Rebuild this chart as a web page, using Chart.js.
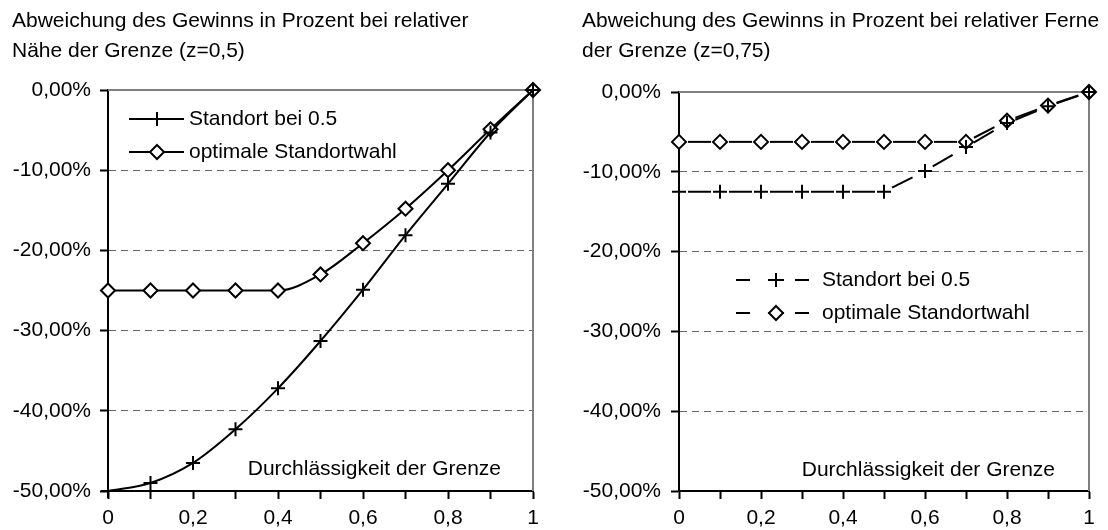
<!DOCTYPE html>
<html>
<head>
<meta charset="utf-8">
<script src="https://cdn.jsdelivr.net/npm/chart.js@4.4.1/dist/chart.umd.min.js"></script>
<style>
  body { margin: 0; background: #fff; }
  .panel { position: absolute; top: 0; width: 554px; height: 530px; }
  .panel canvas { position: absolute; left: 0; top: 0; }
  .title {
    position: absolute;
    top: 5px;
    font: 21px/30px "Liberation Sans", Arial, sans-serif;
    color: #000;
    white-space: nowrap;
    z-index: 2;
  }
</style>
</head>
<body>
<div class="panel" style="left:0">
  <div class="title" id="titleLeft" style="left:12px"></div>
  <canvas id="chartLeft" width="554" height="530"></canvas>
</div>
<div class="panel" style="left:554px">
  <div class="title" id="titleRight" style="left:28px"></div>
  <canvas id="chartRight" width="554" height="530"></canvas>
</div>

<script>
// Durchlässigkeit der Grenze (x)
const xValues = [0, 0.1, 0.2, 0.3, 0.4, 0.5, 0.6, 0.7, 0.8, 0.9, 1];

// left chart, z=0,5 (percent)
const leftStandort = [-50, -49, -46.5, -42.3, -37.2, -31.3, -24.9, -18.1, -11.7, -5.3, 0];
const leftOptimal = [-25, -25, -25, -25, -25, -23, -19.1, -14.8, -10, -4.9, 0];

// right chart, z=0,75 (percent)
const rightStandort = [-12.5, -12.5, -12.5, -12.5, -12.5, -12.5, -9.9, -6.9, -3.9, -1.8, 0];
const rightOptimal = [-6.25, -6.25, -6.25, -6.25, -6.25, -6.25, -6.25, -6.25, -3.6, -1.7, 0];

const seriesNames = ["Standort bei 0.5", "optimale Standortwahl"];
const titleLeft = ["Abweichung des Gewinns in Prozent bei relativer", "Nähe der Grenze (z=0,5)"];
const titleRight = ["Abweichung des Gewinns in Prozent bei relativer Ferne", "der Grenze (z=0,75)"];
const axisNote = "Durchlässigkeit der Grenze";

const FONT = '"Liberation Sans", Arial, sans-serif';
Chart.defaults.font.family = FONT;
Chart.defaults.font.size = 21;
Chart.defaults.color = "#000";

function setTitle(id, lines) {
  const el = document.getElementById(id);
  lines.forEach((t, i) => {
    if (i) el.appendChild(document.createElement("br"));
    el.appendChild(document.createTextNode(t));
  });
}
setTitle("titleLeft", titleLeft);
setTitle("titleRight", titleRight);

const fmtX = (v) => {
  const r = Math.round(v * 10);
  if (r % 2) return "";
  if (r === 0) return "0";
  if (r === 10) return "1";
  return (r / 10).toFixed(1).replace(".", ",");
};
const fmtY = (v) => v.toFixed(2).replace(".", ",") + "%";

function drawMark(ctx, style, x, y, r) {
  ctx.beginPath();
  if (style === "cross") {
    ctx.moveTo(x - r, y);
    ctx.lineTo(x + r, y);
    ctx.moveTo(x, y - r);
    ctx.lineTo(x, y + r);
    ctx.stroke();
  } else {
    ctx.moveTo(x, y - r);
    ctx.lineTo(x + r, y);
    ctx.lineTo(x, y + r);
    ctx.lineTo(x - r, y);
    ctx.closePath();
    ctx.fillStyle = "#fff";
    ctx.fill();
    ctx.stroke();
  }
}

// gray frame, legend and axis note
const decorPlugin = {
  id: "decor",
  beforeDatasetsDraw(chart) {
    const { ctx, chartArea: a } = chart;
    ctx.save();
    ctx.strokeStyle = "#808080";
    ctx.lineWidth = 2;
    ctx.beginPath();
    ctx.moveTo(a.left, a.top);
    ctx.lineTo(a.right, a.top);
    ctx.lineTo(a.right, a.bottom);
    ctx.stroke();
    ctx.restore();
  },
  afterDatasetsDraw(chart, args, opts) {
    const { ctx, chartArea: a } = chart;
    ctx.save();
    ctx.font = "21px " + FONT;
    ctx.fillStyle = "#000";
    ctx.textBaseline = "middle";
    ctx.textAlign = "right";
    ctx.fillText(axisNote, a.right - opts.noteRight, a.bottom - opts.noteUp);

    ctx.textAlign = "left";
    chart.data.datasets.forEach((ds, i) => {
      const y = a.top + opts.legendTop + i * opts.legendGap;
      const x0 = a.left + opts.sampleFrom;
      const x1 = a.left + opts.sampleTo;
      const mx = a.left + opts.markAt;
      ctx.strokeStyle = "#000";
      ctx.lineWidth = 2;
      ctx.setLineDash([]);
      ctx.beginPath();
      if (ds.borderDash && ds.borderDash.length) {
        ctx.moveTo(x0, y); ctx.lineTo(x0 + 14, y);
        ctx.moveTo(mx - 8, y); ctx.lineTo(mx + 8, y);
        ctx.moveTo(x1 - 14, y); ctx.lineTo(x1, y);
      } else {
        ctx.moveTo(x0, y);
        ctx.lineTo(x1, y);
      }
      ctx.stroke();
      drawMark(ctx, ds.pointStyle, mx, y, ds.pointRadius);
      ctx.fillStyle = "#000";
      ctx.fillText(ds.label, a.left + opts.textAt, y);
    });
    ctx.restore();
  },
};

function toPoints(values) {
  return xValues.map((x, i) => ({ x: x, y: values[i] }));
}

function makeDataset(label, values, style, dashed) {
  const ds = {
    label: label,
    data: toPoints(values),
    borderColor: "#000",
    borderWidth: 2,
    pointStyle: style,
    pointRadius: 7,
    pointBorderWidth: 2,
    pointBorderColor: "#000",
    pointBackgroundColor: "#fff",
    fill: false,
    clip: false,
  };
  if (dashed) {
    // restart the dash pattern at every point, like the original
    ds.borderDash = [23, 18];
    ds.borderDashOffset = 32;
    ds.tension = 0;
    ds.segment = { borderDashOffset: (c) => (c.p0DataIndex % 2 ? 32.001 : 32) };
  } else {
    ds.tension = 0.4;
    ds.cubicInterpolationMode = "monotone";
  }
  return ds;
}

function makeChart(id, datasets, layout, decor) {
  const gridColor = (c) =>
    c.tick && (c.tick.value === 0 || c.tick.value === -50) ? "rgba(0,0,0,0)" : "#666";
  return new Chart(document.getElementById(id), {
    type: "line",
    data: { datasets: datasets },
    options: {
      responsive: false,
      animation: false,
      layout: { padding: { left: 0, top: layout.top, right: layout.right, bottom: 0 } },
      plugins: {
        legend: { display: false },
        tooltip: { enabled: false },
        decor: decor,
      },
      scales: {
        x: {
          type: "linear",
          min: 0,
          max: 1,
          ticks: { stepSize: 0.1, autoSkip: false, maxRotation: 0, padding: 7, callback: fmtX },
          grid: { drawOnChartArea: false, tickLength: 8, tickWidth: 2, tickColor: "#000", color: "#000" },
          border: { color: "#000", width: 2 },
          afterFit: (s) => { s.height = 39; },
        },
        y: {
          min: -50,
          max: 0,
          ticks: { stepSize: 10, padding: layout.labelPad, callback: fmtY },
          grid: { color: gridColor, lineWidth: 1, tickLength: 8, tickWidth: 2, tickColor: "#000" },
          border: { color: "#000", width: 2, dash: [7, 5] },
          afterFit: (s) => { s.width = layout.left; },
        },
      },
    },
    plugins: [decorPlugin],
  });
}

makeChart(
  "chartLeft",
  [
    makeDataset(seriesNames[0], leftStandort, "cross", false),
    makeDataset(seriesNames[1], leftOptimal, "rectRot", false),
  ],
  { left: 108, top: 90, right: 21, labelPad: 9 },
  { legendTop: 29, legendGap: 33, sampleFrom: 21, sampleTo: 76, markAt: 49, textAt: 81, noteRight: 32, noteUp: 22 }
);

makeChart(
  "chartRight",
  [
    makeDataset(seriesNames[0], rightStandort, "cross", true),
    makeDataset(seriesNames[1], rightOptimal, "rectRot", true),
  ],
  { left: 125, top: 92, right: 19, labelPad: 10 },
  { legendTop: 188, legendGap: 33, sampleFrom: 57, sampleTo: 130, markAt: 97, textAt: 143, noteRight: 34, noteUp: 21 }
);
</script>
</body>
</html>
